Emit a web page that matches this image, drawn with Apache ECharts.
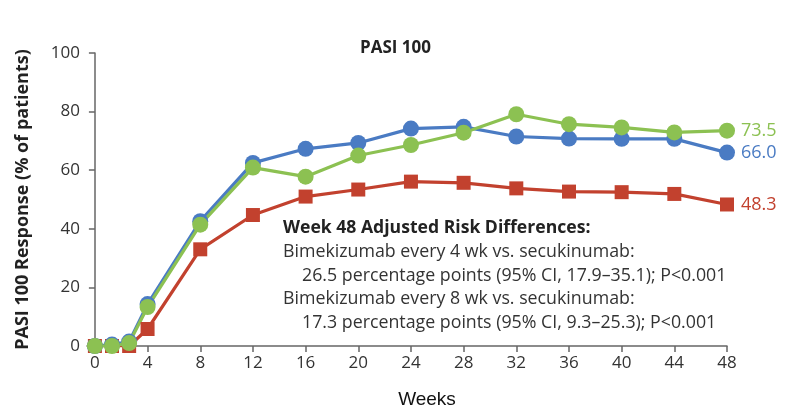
<!DOCTYPE html>
<html>
<head>
<meta charset="utf-8">
<script src="https://cdn.jsdelivr.net/npm/echarts@6/dist/echarts.min.js"></script>
<style>
  html, body { margin: 0; padding: 0; background: #fff; }
  #chart { width: 791px; height: 414px; }
</style>
</head>
<body>
<div id="chart"></div>
<script>
// weeks at which PASI 100 was assessed
const weeks = [0, 1.3, 2.6, 4, 8, 12, 16, 20, 24, 28, 32, 36, 40, 44, 48]
const bimeQ4 = [0, 0.5, 1.5, 14.3, 42.6, 62.5, 67.3, 69.3, 74.2, 74.8, 71.5, 70.8, 70.7, 70.7, 66.0]
const bimeQ8 = [0, 0, 1, 13.3, 41.4, 60.9, 57.8, 65.0, 68.6, 72.8, 79.1, 75.7, 74.6, 72.9, 73.5]
const secuk = [0, 0, 0, 5.8, 33.0, 44.7, 51.0, 53.4, 56.1, 55.7, 53.8, 52.7, 52.5, 51.9, 48.3]
const xTicks = [0, 4, 8, 12, 16, 20, 24, 28, 32, 36, 40, 44, 48]
const noteLines = [
  "Bimekizumab every 4 wk vs. secukinumab:",
  "26.5 percentage points (95% CI, 17.9\u201335.1); P<0.001",
  "Bimekizumab every 8 wk vs. secukinumab:",
  "17.3 percentage points (95% CI, 9.3\u201325.3); P<0.001"
]

const BLUE = '#4a7bc3'
const GREEN = '#8cc152'
const RED = '#c2412e'
const FONT = '"Open Sans", Lato, sans-serif'

function pairs(ys) {
  return weeks.map((w, i) => [w, ys[i]])
}

function lineSeries(name, ys, color, symbol, size) {
  return {
    name: name,
    type: 'line',
    data: pairs(ys),
    symbol: symbol,
    symbolSize: size,
    lineStyle: { color: color, width: 3.2 },
    itemStyle: { color: color },
    animation: false,
    endLabel: {
      show: true,
      color: color,
      fontFamily: FONT,
      fontSize: 18,
      distance: 14,
      formatter: p => p.value[1].toFixed(1)
    }
  }
}

const chart = echarts.init(document.getElementById('chart'), null, { renderer: 'canvas' })

const noteGraphics = [{
  type: 'text',
  left: 283, top: 219,
  style: { text: 'Week 48 Adjusted Risk Differences:', font: 'bold 17.6px ' + FONT, fill: '#222' }
}]
noteLines.forEach((t, i) => {
  noteGraphics.push({
    type: 'text',
    left: i % 2 === 0 ? 283 : 302,
    top: 243 + i * 23.5,
    style: { text: t, font: '17.8px ' + FONT, fill: '#333' }
  })
})

chart.setOption({
  backgroundColor: '#fff',
  title: {
    text: 'PASI 100',
    left: 'center',
    top: 35,
    textStyle: { fontFamily: FONT, fontWeight: 'bold', fontSize: 17, color: '#222' }
  },
  grid: { left: 87, right: 64, top: 53, bottom: 67 },
  xAxis: {
    type: 'value',
    min: -0.6,
    max: 48,
    name: 'Weeks',
    nameLocation: 'middle',
    nameGap: 44,
    nameTextStyle: { fontFamily: 'Liberation Sans, Arial, sans-serif', fontSize: 19, color: '#111', padding: [0, 0, 0, 40] },
    axisLine: { show: true, lineStyle: { color: '#666', width: 1.5 } },
    axisTick: { show: true, customValues: xTicks, length: 6, lineStyle: { color: '#666', width: 1.5 } },
    axisLabel: { customValues: xTicks, fontFamily: FONT, fontSize: 17, color: '#333', margin: 9 },
    splitLine: { show: false }
  },
  yAxis: {
    type: 'value',
    min: 0,
    max: 100,
    interval: 20,
    name: 'PASI 100 Response (% of patients)',
    nameLocation: 'middle',
    nameGap: 55,
    nameTextStyle: { fontFamily: FONT, fontWeight: 'bold', fontSize: 18, color: '#222' },
    axisLine: { show: true, onZero: true, lineStyle: { color: '#666', width: 1.5 } },
    axisTick: { show: true, length: 6, lineStyle: { color: '#666', width: 1.5 } },
    axisLabel: { fontFamily: FONT, fontSize: 17, color: '#333', margin: 7 },
    splitLine: { show: false }
  },
  graphic: noteGraphics,
  series: [
    lineSeries('Secukinumab', secuk, RED, 'rect', 14),
    lineSeries('Bimekizumab every 4 wk', bimeQ4, BLUE, 'circle', 16),
    lineSeries('Bimekizumab every 8 wk', bimeQ8, GREEN, 'circle', 16)
  ]
})
</script>
</body>
</html>
